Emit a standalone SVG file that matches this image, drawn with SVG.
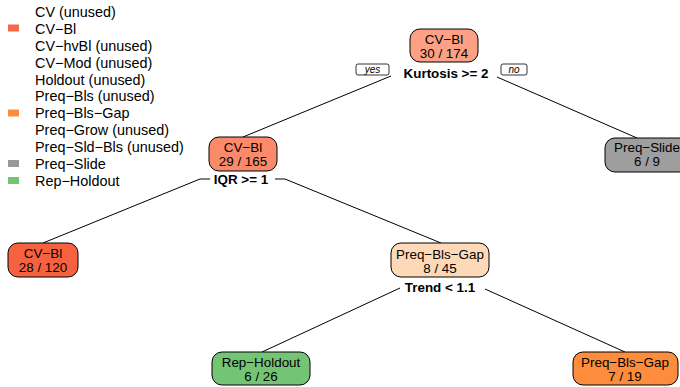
<svg xmlns="http://www.w3.org/2000/svg" width="680" height="387" viewBox="0 0 680 387">
<style>
text{font-family:"Liberation Sans",Arial,sans-serif;fill:#000}
.lg{font-size:14.4px}
.nd{font-size:13.4px;text-anchor:middle}
.sp{font-size:13.4px;font-weight:bold;text-anchor:middle}
.yn{font-size:10px;font-style:italic;text-anchor:middle}
.box{stroke:#000;stroke-width:1}
.ynb{fill:#fff;stroke:#000;stroke-width:0.8}
.ln{fill:none;stroke:#000;stroke-width:1}
</style>
<rect width="680" height="387" fill="#fff"/>
<g id="legend">
<text class="lg" x="35" y="17">CV (unused)</text>
<rect x="8" y="24.5" width="11" height="7" fill="#F4694A"/>
<text class="lg" x="35" y="33.5">CV−Bl</text>
<text class="lg" x="35" y="50.5">CV−hvBl (unused)</text>
<text class="lg" x="35" y="67.5">CV−Mod (unused)</text>
<text class="lg" x="35" y="84.5">Holdout (unused)</text>
<text class="lg" x="35" y="101">Preq−Bls (unused)</text>
<rect x="8" y="109.5" width="11" height="7" fill="#FD8D3C"/>
<text class="lg" x="35" y="118">Preq−Bls−Gap</text>
<text class="lg" x="35" y="135">Preq−Grow (unused)</text>
<text class="lg" x="35" y="152">Preq−Sld−Bls (unused)</text>
<rect x="8" y="160" width="11" height="7" fill="#999999"/>
<text class="lg" x="35" y="168.5">Preq−Slide</text>
<rect x="8" y="177" width="11" height="7" fill="#74C476"/>
<text class="lg" x="35" y="185.5">Rep−Holdout</text>
</g>
<g id="connectors">
<polyline class="ln" points="391,76 243,137"/>
<polyline class="ln" points="497,77 637,138"/>
<polyline class="ln" points="210,179 200,179 43,243"/>
<polyline class="ln" points="275,179 285,179 441,243"/>
<polyline class="ln" points="400,288 262,352"/>
<polyline class="ln" points="485,289 625,352"/>
</g>
<g id="node1">
<rect class="box" x="410" y="29" width="68" height="33" rx="10" fill="#FCA185"/>
<text class="nd" x="444" y="44">CV−Bl</text>
<text class="nd" x="444" y="58">30 / 174</text>
<rect class="ynb" x="356" y="64" width="33" height="11" rx="2"/>
<text class="yn" x="372.5" y="73">yes</text>
<text class="sp" x="446" y="78">Kurtosis &gt;= 2</text>
<rect class="ynb" x="501" y="64" width="26" height="11" rx="2"/>
<text class="yn" x="514" y="73">no</text>
</g>
<g id="node2">
<rect class="box" x="209" y="137" width="68" height="34" rx="10" fill="#FA8A6A"/>
<text class="nd" x="243" y="152">CV−Bl</text>
<text class="nd" x="243" y="166">29 / 165</text>
<text class="sp" x="241" y="184">IQR &gt;= 1</text>
</g>
<g id="node3">
<rect class="box" x="605" y="138" width="84" height="34" rx="10" fill="#9E9E9E"/>
<text class="nd" x="647" y="152">Preq−Slide</text>
<text class="nd" x="647" y="166">6 / 9</text>
</g>
<g id="node4">
<rect class="box" x="8" y="243" width="70" height="34" rx="10" fill="#F6623F"/>
<text class="nd" x="43" y="258">CV−Bl</text>
<text class="nd" x="43" y="272">28 / 120</text>
</g>
<g id="node5">
<rect class="box" x="391" y="243" width="98" height="34" rx="10" fill="#FDD9B7"/>
<text class="nd" x="440" y="259">Preq−Bls−Gap</text>
<text class="nd" x="440" y="273">8 / 45</text>
<text class="sp" x="440" y="292">Trend &lt; 1.1</text>
</g>
<g id="node6">
<rect class="box" x="212" y="352" width="98" height="33" rx="10" fill="#74C476"/>
<text class="nd" x="261" y="367">Rep−Holdout</text>
<text class="nd" x="261" y="381">6 / 26</text>
</g>
<g id="node7">
<rect class="box" x="573" y="352" width="105" height="33" rx="10" fill="#FD8D3C"/>
<text class="nd" x="625" y="367">Preq−Bls−Gap</text>
<text class="nd" x="625" y="381">7 / 19</text>
</g>
</svg>
